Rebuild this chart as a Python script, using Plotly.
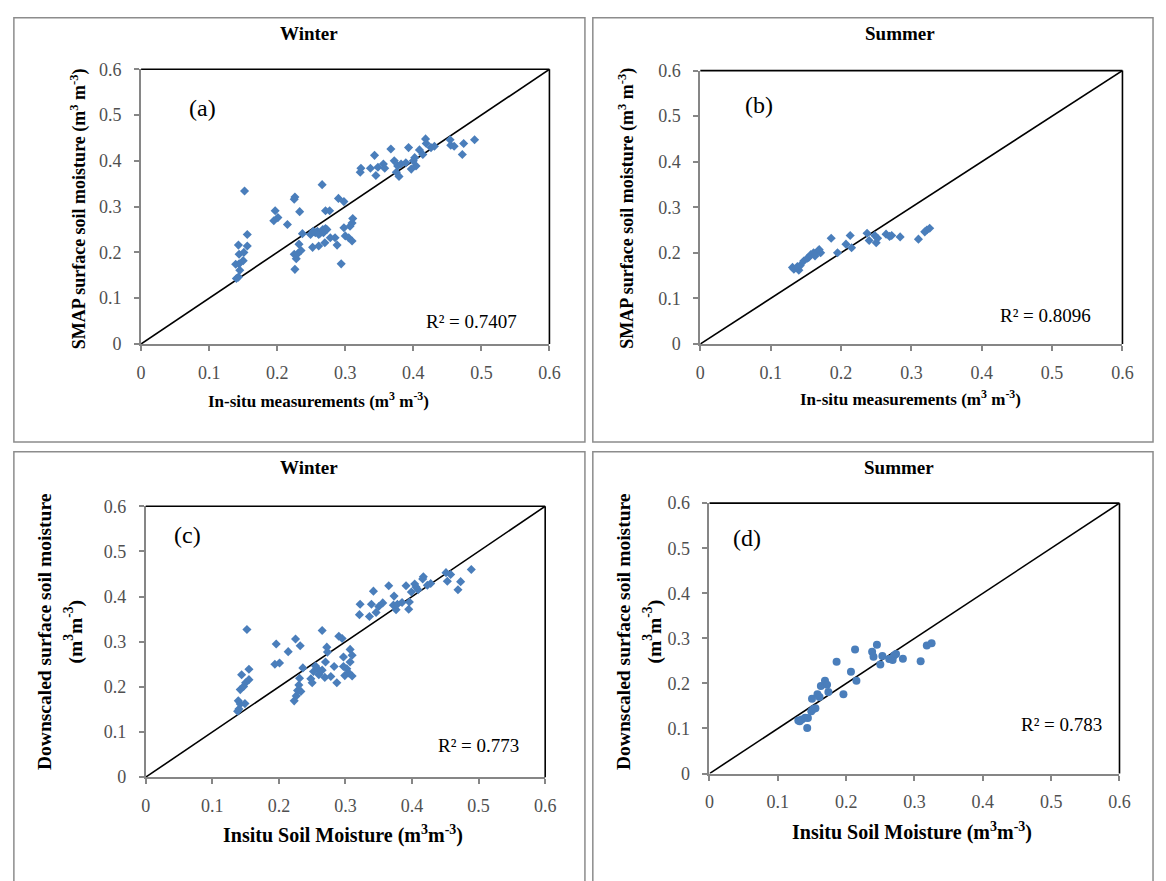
import plotly.graph_objects as go

W, H = 1166, 881

# ---- data: in-situ vs retrieved soil moisture (m3 m-3) ----
a_x = [0.140, 0.143, 0.139, 0.144, 0.144, 0.145, 0.150, 0.151, 0.143, 0.156, 0.156, 0.152,
       0.197, 0.195, 0.201, 0.215,
       0.226, 0.225, 0.233, 0.225, 0.228, 0.230, 0.226, 0.235, 0.232, 0.237,
       0.249, 0.252, 0.256, 0.259, 0.261, 0.263, 0.266, 0.267, 0.270, 0.271, 0.271, 0.277,
       0.278, 0.285, 0.288, 0.290, 0.294, 0.298, 0.298, 0.300, 0.305, 0.310, 0.310, 0.311,
       0.307, 0.253, 0.261, 0.268, 0.273,
       0.322, 0.323, 0.337, 0.343, 0.345, 0.348, 0.356, 0.358, 0.367, 0.372, 0.375, 0.379,
       0.377, 0.382, 0.389, 0.393, 0.397, 0.400, 0.404, 0.402, 0.409, 0.414, 0.418, 0.419,
       0.431, 0.426, 0.454, 0.455, 0.460, 0.472, 0.474, 0.490]
a_y = [0.143, 0.146, 0.174, 0.175, 0.196, 0.161, 0.182, 0.200, 0.216, 0.214, 0.239, 0.334,
       0.291, 0.269, 0.276, 0.261,
       0.321, 0.316, 0.289, 0.196, 0.186, 0.197, 0.163, 0.204, 0.218, 0.241,
       0.239, 0.211, 0.243, 0.246, 0.214, 0.242, 0.348, 0.250, 0.221, 0.252, 0.291, 0.291,
       0.232, 0.232, 0.216, 0.318, 0.175, 0.311, 0.254, 0.236, 0.232, 0.225, 0.264, 0.274,
       0.257, 0.246, 0.239, 0.243, 0.250,
       0.375, 0.384, 0.384, 0.412, 0.368, 0.386, 0.393, 0.384, 0.426, 0.400, 0.375, 0.366,
       0.389, 0.393, 0.396, 0.429, 0.382, 0.400, 0.389, 0.407, 0.424, 0.414, 0.448, 0.438,
       0.432, 0.429, 0.446, 0.434, 0.432, 0.414, 0.438, 0.446]

b_x = [0.131, 0.133, 0.140, 0.138, 0.142, 0.147, 0.152, 0.154, 0.157, 0.161, 0.163, 0.167,
       0.171, 0.169, 0.186, 0.195, 0.207, 0.213, 0.215, 0.237, 0.240, 0.248, 0.250, 0.252,
       0.264, 0.269, 0.272, 0.284, 0.310, 0.319, 0.322, 0.326]
b_y = [0.168, 0.164, 0.162, 0.170, 0.172, 0.182, 0.188, 0.190, 0.196, 0.200, 0.193, 0.204,
       0.200, 0.207, 0.232, 0.200, 0.219, 0.238, 0.211, 0.243, 0.227, 0.238, 0.222, 0.232,
       0.241, 0.236, 0.238, 0.235, 0.230, 0.246, 0.250, 0.254]

c_x = [0.138, 0.140, 0.139, 0.142, 0.149, 0.144, 0.142, 0.147, 0.150, 0.155, 0.155, 0.152,
       0.194, 0.201, 0.196, 0.214, 0.225, 0.232,
       0.223, 0.226, 0.228, 0.230, 0.233, 0.231, 0.236,
       0.248, 0.250, 0.252, 0.255, 0.258, 0.260, 0.265, 0.265, 0.269, 0.270, 0.272, 0.273,
       0.278, 0.283, 0.287, 0.290, 0.295, 0.297, 0.297, 0.299, 0.302, 0.305, 0.307, 0.310,
       0.310, 0.307,
       0.321, 0.322, 0.336, 0.339, 0.342, 0.346, 0.350, 0.356, 0.365, 0.372, 0.373, 0.376,
       0.378, 0.385, 0.391, 0.395, 0.396, 0.399, 0.404, 0.406, 0.409, 0.417, 0.416, 0.423,
       0.428, 0.451, 0.453, 0.458, 0.469, 0.473, 0.489]
c_y = [0.146, 0.151, 0.169, 0.162, 0.163, 0.227, 0.194, 0.201, 0.209, 0.216, 0.239, 0.327,
       0.250, 0.253, 0.295, 0.278, 0.306, 0.291,
       0.169, 0.180, 0.192, 0.204, 0.190, 0.219, 0.242,
       0.218, 0.209, 0.234, 0.246, 0.240, 0.227, 0.325, 0.237, 0.221, 0.255, 0.288, 0.277,
       0.223, 0.245, 0.209, 0.312, 0.307, 0.266, 0.245, 0.225, 0.240, 0.231, 0.283, 0.224,
       0.270, 0.255,
       0.360, 0.383, 0.356, 0.383, 0.412, 0.365, 0.378, 0.386, 0.424, 0.381, 0.401, 0.371,
       0.383, 0.387, 0.424, 0.372, 0.388, 0.410, 0.428, 0.421, 0.415, 0.444, 0.439, 0.425,
       0.429, 0.453, 0.434, 0.449, 0.415, 0.433, 0.460]

d_x = [0.130, 0.132, 0.135, 0.140, 0.144, 0.143, 0.149, 0.152, 0.155, 0.150, 0.158, 0.161,
       0.163, 0.169, 0.172, 0.174, 0.186, 0.196, 0.207, 0.213, 0.215, 0.238, 0.240, 0.245,
       0.250, 0.253, 0.263, 0.268, 0.270, 0.273, 0.283, 0.309, 0.318, 0.325]
d_y = [0.118, 0.116, 0.120, 0.124, 0.123, 0.101, 0.138, 0.143, 0.145, 0.166, 0.176, 0.170,
       0.194, 0.206, 0.197, 0.181, 0.248, 0.176, 0.226, 0.275, 0.206, 0.270, 0.259, 0.286,
       0.242, 0.261, 0.254, 0.252, 0.262, 0.265, 0.255, 0.249, 0.284, 0.289]

axis_ticks = [0, 0.1, 0.2, 0.3, 0.4, 0.5, 0.6]
axis_tick_text = ["0", "0.1", "0.2", "0.3", "0.4", "0.5", "0.6"]

seasons = ["Winter", "Summer", "Winter", "Summer"]
panel_tags = ["(a)", "(b)", "(c)", "(d)"]
r2_labels = ["R² = 0.7407", "R² = 0.8096", "R² = 0.773", "R² = 0.783"]
x_titles = ["In-situ measurements (m<sup>3</sup> m<sup>-3</sup>)",
            "In-situ measurements (m<sup>3</sup> m<sup>-3</sup>)",
            "Insitu Soil Moisture (m<sup>3</sup>m<sup>-3</sup>)",
            "Insitu Soil Moisture (m<sup>3</sup>m<sup>-3</sup>)"]
y_titles = [["SMAP surface soil moisture (m<sup>3</sup> m<sup>-3</sup>)"],
            ["SMAP surface soil moisture (m<sup>3</sup> m<sup>-3</sup>)"],
            ["Downscaled surface soil moisture", "(m<sup>3</sup>m<sup>-3</sup>)"],
            ["Downscaled surface soil moisture", "(m<sup>3</sup>m<sup>-3</sup>)"]]

SERIF = "Liberation Serif"
BLUE = "#4a7ebb"
AX_GRAY = "#868686"

def px(x):
    return x / W

def py(y):
    return 1 - y / H

# panel geometry in pixels; tag / r2 positions in data units
panels = [
    dict(frame=(9, 8, 588, 442), plot=(138, 60.7, 552, 341.7),
         title=(308, 24), xt=(318, 399), yt=[(75, 203)], xt_size=17, yt_size=18,
         tag=(0.09, 0.515), r2=(0.485, 0.048), marker="diamond"),
    dict(frame=(596, 8, 1164, 442), plot=(705, 62, 1133, 341.7),
         title=(907, 24), xt=(918, 397), yt=[(631, 203)], xt_size=17, yt_size=18,
         tag=(0.084, 0.525), r2=(0.49, 0.063), marker="diamond"),
    dict(frame=(9, 452, 588, 895), plot=(142.7, 507.8, 547.7, 785),
         title=(308, 468), xt=(343, 844), yt=[(40, 636), (70, 636)], xt_size=20, yt_size=19.5,
         tag=(0.063, 0.537), r2=(0.5, 0.07), marker="diamond"),
    dict(frame=(596, 452, 1164, 895), plot=(714.3, 504.6, 1130, 781.3),
         title=(906, 468), xt=(920, 841), yt=[(627, 636), (657, 636)], xt_size=20, yt_size=19.5,
         tag=(0.055, 0.523), r2=(0.515, 0.108), marker="circle"),
]
xs = [a_x, b_x, c_x, d_x]
ys = [a_y, b_y, c_y, d_y]

fig = go.Figure()
layout = dict(width=W, height=H, margin=dict(l=0, r=0, t=0, b=0),
              paper_bgcolor="white", plot_bgcolor="white", showlegend=False)
shapes, annotations = [], []

for i, p in enumerate(panels):
    n = "" if i == 0 else str(i + 1)
    xa, ya = "x" + n, "y" + n
    x0, y0, x1, y1 = p["plot"]
    axis_common = dict(range=[axis_ticks[0], axis_ticks[-1]], tickvals=axis_ticks,
                       ticktext=axis_tick_text, showgrid=False, zeroline=False,
                       showline=True, linecolor=AX_GRAY, linewidth=2,
                       ticks="outside", ticklen=5, tickcolor=AX_GRAY, tickwidth=1.5,
                       tickfont=dict(family=SERIF, size=18, color="#505050"))
    layout["xaxis" + n] = dict(axis_common, domain=[px(x0), px(x1)], anchor=ya,
                               ticklabelstandoff=6)
    layout["yaxis" + n] = dict(axis_common, domain=[py(y1), py(y0)], anchor=xa,
                               ticklabelstandoff=9)

    # 1:1 reference line
    fig.add_trace(go.Scatter(x=[axis_ticks[0], axis_ticks[-1]], y=[axis_ticks[0], axis_ticks[-1]],
                             mode="lines", line=dict(color="black", width=1.6),
                             xaxis=xa, yaxis=ya, hoverinfo="skip"))
    fig.add_trace(go.Scatter(x=xs[i], y=ys[i], mode="markers",
                             marker=dict(symbol=p["marker"], color=BLUE,
                                         size=7 if p["marker"] == "diamond" else 8,
                                         line=dict(width=0)),
                             xaxis=xa, yaxis=ya))

    # plot-area border (top and right in black)
    shapes.append(dict(type="line", xref=xa + " domain", yref=ya + " domain",
                       x0=0, x1=1, y0=1, y1=1, line=dict(color="black", width=1.6)))
    shapes.append(dict(type="line", xref=xa + " domain", yref=ya + " domain",
                       x0=1, x1=1, y0=0, y1=1, line=dict(color="black", width=1.6)))
    # outer chart frame
    fx0, fy0, fx1, fy1 = p["frame"]
    shapes.append(dict(type="rect", xref="paper", yref="paper",
                       x0=px(fx0), x1=px(fx1), y0=py(fy1), y1=py(fy0),
                       line=dict(color="#8c8c8c", width=1.5), layer="below"))

    annotations.append(dict(text="<b>%s</b>" % seasons[i], xref="paper", yref="paper",
                            x=px(p["title"][0]), y=py(p["title"][1]), showarrow=False,
                            xanchor="center", yanchor="middle",
                            font=dict(family=SERIF, size=19, color="black")))
    annotations.append(dict(text="<b>%s</b>" % x_titles[i], xref="paper", yref="paper",
                            x=px(p["xt"][0]), y=py(p["xt"][1]), showarrow=False,
                            xanchor="center", yanchor="middle",
                            font=dict(family=SERIF, size=p["xt_size"], color="black")))
    for line_text, (tx, ty) in zip(y_titles[i], p["yt"]):
        annotations.append(dict(text="<b>%s</b>" % line_text, xref="paper", yref="paper",
                                x=px(tx), y=py(ty), showarrow=False, textangle=-90,
                                xanchor="center", yanchor="middle",
                                font=dict(family=SERIF, size=p["yt_size"], color="black")))
    annotations.append(dict(text=panel_tags[i], xref=xa, yref=ya,
                            x=p["tag"][0], y=p["tag"][1], showarrow=False,
                            xanchor="center", yanchor="middle",
                            font=dict(family=SERIF, size=24, color="black")))
    annotations.append(dict(text=r2_labels[i], xref=xa, yref=ya,
                            x=p["r2"][0], y=p["r2"][1], showarrow=False,
                            xanchor="center", yanchor="middle",
                            font=dict(family=SERIF, size=19, color="black")))

layout["shapes"] = shapes
layout["annotations"] = annotations
fig.update_layout(**layout)
fig.write_html("out.html")
